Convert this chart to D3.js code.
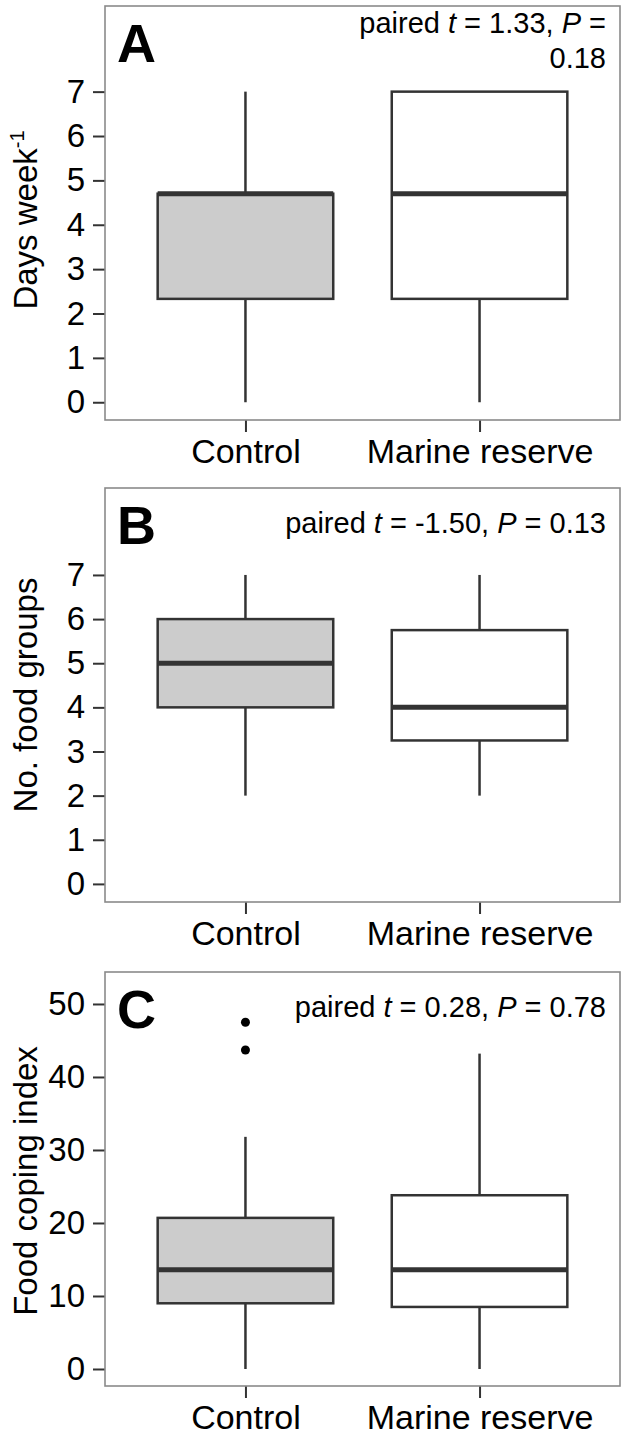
<!DOCTYPE html>
<html>
<head>
<meta charset="utf-8">
<script src="https://cdn.jsdelivr.net/npm/d3@7"></script>
<style>
  body { margin: 0; background: #fff; }
  text { font-family: "Liberation Sans", Arial, Helvetica, sans-serif; }
</style>
</head>
<body>
<div id="chart"></div>
<script>
// groups on the x axis
const groups = ["Control", "Marine reserve"];

// five-number summaries per group: [lower whisker, Q1, median, Q3, upper whisker]
const daysWeek = [[0, 2.33, 4.7, 4.7, 7], [0, 2.33, 4.7, 7, 7]];
const foodGroups = [[2, 4, 5, 6, 7], [2, 3.25, 4, 5.75, 7]];
const copingIndex = [[0, 9, 13.6, 20.7, 31.8], [0, 8.5, 13.6, 23.8, 43.2]];
const copingOutliers = [[43.7, 47.5], []];

// tick labels
const daysTicks = [0, 1, 2, 3, 4, 5, 6, 7];
const foodTicks = [0, 1, 2, 3, 4, 5, 6, 7];
const copingTicks = [0, 10, 20, 30, 40, 50];

// paired t-test results
const tValues = ["1.33", "-1.50", "0.28"];
const pValues = ["0.18", "0.13", "0.78"];

const fills = ["#cccccc", "#ffffff"];

const width = 627, height = 1437;
const left = 105, right = 620, panelH = 414;

const svg = d3.select('#chart').append('svg')
    .attr('width', width)
    .attr('height', height);

const x = d3.scalePoint()
    .domain(groups)
    .range([left, right])
    .padding(0.6);
const boxW = x.step() * 0.75;

const panels = [
    { letter: 'A', top: 6, stats: daysWeek, outliers: [[], []], domain: [-0.4, 8.93], ticks: daysTicks,
      title: ['Days week', '-1'], titleShift: 7, wrap: true },
    { letter: 'B', top: 488, stats: foodGroups, outliers: [[], []], domain: [-0.41, 8.97], ticks: foodTicks,
      title: ['No. food groups', null], titleShift: 0, wrap: false },
    { letter: 'C', top: 972, stats: copingIndex, outliers: copingOutliers, domain: [-2.33, 54.38], ticks: copingTicks,
      title: ['Food coping index', null], titleShift: 2, wrap: false }
];

panels.forEach((p, i) => {
    const bottom = p.top + panelH;
    const y = d3.scaleLinear().domain(p.domain).range([bottom, p.top]);
    const g = svg.append('g');

    // axes
    const yAxis = g.append('g')
        .attr('transform', `translate(${left},0)`)
        .call(d3.axisLeft(y).tickValues(p.ticks).tickSize(12).tickPadding(8));
    const xAxis = g.append('g')
        .attr('transform', `translate(0,${bottom})`)
        .call(d3.axisBottom(x).tickSize(12).tickPadding(7));
    [yAxis, xAxis].forEach(a => {
        a.select('.domain').remove();
        a.selectAll('.tick line').attr('stroke', '#333').attr('stroke-width', 2);
        a.selectAll('.tick text').attr('fill', '#000').style('font-size', '33px');
    });
    xAxis.selectAll('.tick text').attr('dy', '0.71em').style('font-size', '34px');

    // boxes
    const box = g.selectAll('g.box')
        .data(groups.map((name, j) => ({ name, s: p.stats[j], out: p.outliers[j], fill: fills[j] })))
        .enter().append('g')
        .attr('class', 'box');

    box.append('line')
        .attr('x1', d => x(d.name)).attr('x2', d => x(d.name))
        .attr('y1', d => y(d.s[0])).attr('y2', d => y(d.s[1]))
        .attr('stroke', '#333').attr('stroke-width', 2.5);
    box.append('line')
        .attr('x1', d => x(d.name)).attr('x2', d => x(d.name))
        .attr('y1', d => y(d.s[3])).attr('y2', d => y(d.s[4]))
        .attr('stroke', '#333').attr('stroke-width', 2.5);
    box.append('rect')
        .attr('x', d => x(d.name) - boxW / 2)
        .attr('width', boxW)
        .attr('y', d => y(d.s[3]))
        .attr('height', d => y(d.s[1]) - y(d.s[3]))
        .attr('fill', d => d.fill)
        .attr('stroke', '#333').attr('stroke-width', 2.5);
    box.append('line')
        .attr('x1', d => x(d.name) - boxW / 2).attr('x2', d => x(d.name) + boxW / 2)
        .attr('y1', d => y(d.s[2])).attr('y2', d => y(d.s[2]))
        .attr('stroke', '#333').attr('stroke-width', 5);
    box.selectAll('circle')
        .data(d => d.out.map(v => ({ name: d.name, v })))
        .enter().append('circle')
        .attr('cx', d => x(d.name))
        .attr('cy', d => y(d.v))
        .attr('r', 4.5)
        .attr('fill', '#000');

    // panel border
    g.append('rect')
        .attr('x', left).attr('y', p.top)
        .attr('width', right - left).attr('height', panelH)
        .attr('fill', 'none')
        .attr('stroke', '#8a8a8a').attr('stroke-width', 1.6);

    // panel letter
    g.append('text')
        .attr('x', left + 12).attr('y', p.top + 56)
        .style('font-size', '54px').style('font-weight', 'bold')
        .text(p.letter);

    // t-test annotation
    const lines = p.wrap
        ? [[['paired ', 0], ['t', 1], [` = ${tValues[i]}, `, 0], ['P', 1], [' =', 0]], [[pValues[i], 0]]]
        : [[['paired ', 0], ['t', 1], [` = ${tValues[i]}, `, 0], ['P', 1], [` = ${pValues[i]}`, 0]]];
    lines.forEach((segs, k) => {
        const t = g.append('text')
            .attr('x', right - 14)
            .attr('y', p.top + (p.wrap ? 27 + k * 35 : 45))
            .attr('text-anchor', 'end')
            .style('font-size', '29px')
            .attr('xml:space', 'preserve');
        segs.forEach(s => t.append('tspan')
            .style('font-style', s[1] ? 'italic' : 'normal')
            .text(s[0]));
    });

    // y axis title
    const ty = g.append('text')
        .attr('transform', `translate(37,${p.top + panelH / 2 + p.titleShift}) rotate(-90)`)
        .attr('text-anchor', 'middle')
        .style('font-size', '33px');
    ty.append('tspan').text(p.title[0]);
    if (p.title[1]) {
        ty.append('tspan').attr('dy', -13).style('font-size', '20px').text(p.title[1]);
    }
});
</script>
</body>
</html>
